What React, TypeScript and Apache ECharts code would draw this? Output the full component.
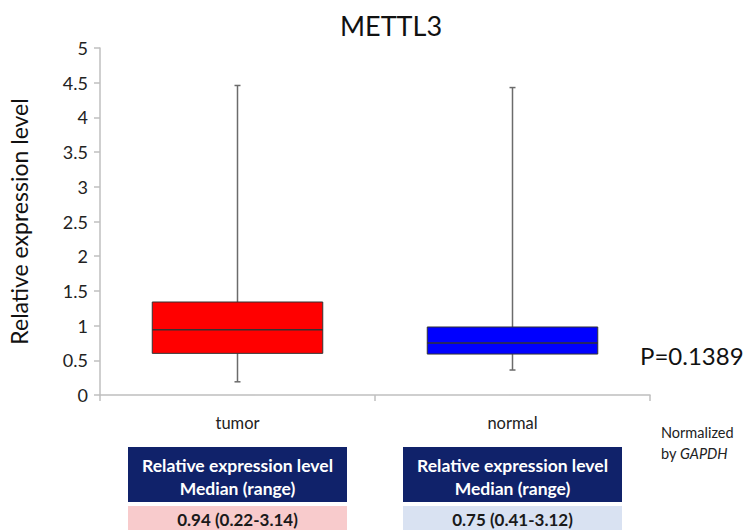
import React, { useEffect, useRef } from "react";
import * as echarts from "echarts";

const categories = ["tumor", "normal"];
const lowValues = [0.19, 0.36];
const q1Values = [0.6, 0.59];
const medianValues = [0.94, 0.75];
const q3Values = [1.34, 0.98];
const highValues = [4.46, 4.43];
const yTicks = [0, 0.5, 1, 1.5, 2, 2.5, 3, 3.5, 4, 4.5, 5];
const medianRangeLabels = ["0.94 (0.22-3.14)", "0.75 (0.41-3.12)"];
const headerLines = ["Relative expression level", "Median (range)"];
const pValueText = "P=0.1389";

const FONT = "Lato, 'Open Sans', sans-serif";
const boxFill = ["#ff0000", "#0000ff"];
const rowFill = ["#f8cbcc", "#d9e2f2"];

export default function App() {
  const ref = useRef<HTMLDivElement>(null);
  useEffect(() => {
    document.body.style.margin = "0";
    const chart = echarts.init(ref.current!, null, { renderer: "svg" });
    const boxData = categories.map((_, i) => [
      i,
      lowValues[i],
      q1Values[i],
      medianValues[i],
      q3Values[i],
      highValues[i],
    ]);

    const tableX = [128, 403];
    const tableW = 219;
    const graphics: any[] = [];
    categories.forEach((_, i) => {
      graphics.push({
        type: "rect",
        shape: { x: tableX[i], y: 447, width: tableW, height: 55 },
        style: { fill: "#10226a" },
      });
      graphics.push({
        type: "text",
        x: tableX[i] + tableW / 2,
        y: 465,
        style: {
          text: headerLines[0],
          fill: "#ffffff",
          font: `bold 17.5px ${FONT}`,
          align: "center",
          verticalAlign: "middle",
        },
      });
      graphics.push({
        type: "text",
        x: tableX[i] + tableW / 2,
        y: 488,
        style: {
          text: headerLines[1],
          fill: "#ffffff",
          font: `bold 17.5px ${FONT}`,
          align: "center",
          verticalAlign: "middle",
        },
      });
      graphics.push({
        type: "rect",
        shape: { x: tableX[i], y: 506, width: tableW, height: 30 },
        style: { fill: rowFill[i] },
      });
      graphics.push({
        type: "text",
        x: tableX[i] + tableW / 2,
        y: 519,
        style: {
          text: medianRangeLabels[i],
          fill: "#1a1a1a",
          font: `bold 17px ${FONT}`,
          align: "center",
          verticalAlign: "middle",
        },
      });
    });
    graphics.push({
      type: "text",
      x: 640,
      y: 355,
      style: {
        text: pValueText,
        fill: "#111",
        font: `24px ${FONT}`,
        align: "left",
        verticalAlign: "middle",
      },
    });
    graphics.push({
      type: "text",
      x: 661,
      y: 432,
      style: {
        text: "Normalized",
        fill: "#222",
        font: `14.5px ${FONT}`,
        verticalAlign: "middle",
      },
    });
    graphics.push({
      type: "text",
      x: 661,
      y: 453,
      style: {
        text: "by ",
        fill: "#222",
        font: `14.5px ${FONT}`,
        verticalAlign: "middle",
      },
    });
    graphics.push({
      type: "text",
      x: 680,
      y: 453,
      style: {
        text: "GAPDH",
        fill: "#222",
        font: `italic 14.5px ${FONT}`,
        verticalAlign: "middle",
      },
    });

    chart.setOption({
      animation: false,
      title: {
        text: "METTL3",
        left: 386,
        textAlign: "center",
        top: 7,
        textStyle: { fontFamily: FONT, fontSize: 27, fontWeight: "normal", color: "#111" },
      },
      grid: { left: 100, right: 101, top: 48, bottom: 135, outerBoundsMode: "none", containLabel: false },
      xAxis: {
        type: "category",
        data: categories,
        boundaryGap: true,
        axisLine: { lineStyle: { color: "#bfbfbf", width: 1.5 } },
        axisTick: { show: true, length: 6, lineStyle: { color: "#bfbfbf", width: 1.5 } },
        axisLabel: { margin: 19, fontFamily: FONT, fontSize: 16.5, color: "#222" },
      },
      yAxis: {
        type: "value",
        min: 0,
        max: 5,
        interval: 0.5,
        name: "Relative expression level",
        nameLocation: "middle",
        nameRotate: 90,
        nameGap: 70,
        nameTextStyle: { fontFamily: FONT, fontSize: 23, color: "#111" },
        axisLine: { show: true, lineStyle: { color: "#bfbfbf", width: 1.5 } },
        axisTick: { show: true, length: 6, lineStyle: { color: "#bfbfbf", width: 1.5 } },
        splitLine: { show: false },
        axisLabel: {
          margin: 12,
          fontFamily: FONT,
          fontSize: 18,
          color: "#222",
          customValues: yTicks,
        },
      },
      series: [
        {
          type: "custom",
          data: boxData,
          encode: { x: 0, y: [1, 2, 3, 4, 5] },
          renderItem: (params: any, api: any) => {
            const idx = api.value(0);
            const low = api.coord([idx, api.value(1)]);
            const q1 = api.coord([idx, api.value(2)]);
            const med = api.coord([idx, api.value(3)]);
            const q3 = api.coord([idx, api.value(4)]);
            const high = api.coord([idx, api.value(5)]);
            const bw = api.size([1, 0])[0] * 0.62;
            const cx = low[0];
            const cap = 3;
            const wStyle = { stroke: "#6b6b6b", lineWidth: 1.5 };
            return {
              type: "group",
              children: [
                { type: "line", shape: { x1: cx, y1: high[1], x2: cx, y2: q3[1] }, style: wStyle },
                { type: "line", shape: { x1: cx, y1: q1[1], x2: cx, y2: low[1] }, style: wStyle },
                { type: "line", shape: { x1: cx - cap, y1: high[1], x2: cx + cap, y2: high[1] }, style: wStyle },
                { type: "line", shape: { x1: cx - cap, y1: low[1], x2: cx + cap, y2: low[1] }, style: wStyle },
                {
                  type: "rect",
                  shape: { x: cx - bw / 2, y: q3[1], width: bw, height: q1[1] - q3[1] },
                  style: { fill: boxFill[params.dataIndex], stroke: "#333", lineWidth: 1 },
                },
                {
                  type: "line",
                  shape: { x1: cx - bw / 2, y1: med[1], x2: cx + bw / 2, y2: med[1] },
                  style: { stroke: "#333", lineWidth: 1.5 },
                },
              ],
            };
          },
        },
      ],
      graphic: graphics,
    });
    return () => chart.dispose();
  }, []);
  return <div ref={ref} style={{ width: 751, height: 530 }} />;
}
